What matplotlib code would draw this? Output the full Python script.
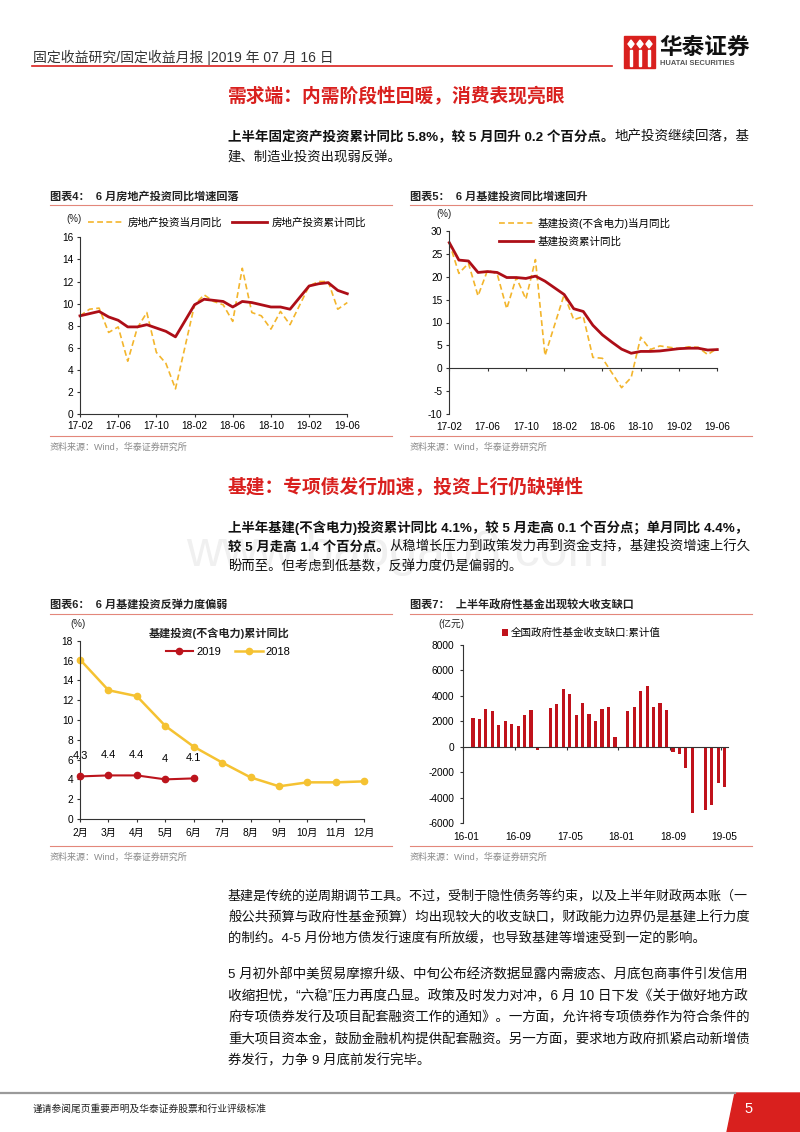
import numpy as np
import matplotlib.pyplot as plt
from matplotlib.lines import Line2D
from matplotlib.patches import Polygon, Rectangle

W, H = 800, 1132
plt.rcParams['font.family'] = ['Liberation Sans', 'Noto Sans CJK SC']
plt.rcParams['axes.unicode_minus'] = False

# ---- data -------------------------------------------------------------
months_a = ['17-02', '17-03', '17-04', '17-05', '17-06', '17-07', '17-08', '17-09', '17-10', '17-11', '17-12',
            '18-02', '18-03', '18-04', '18-05', '18-06', '18-07', '18-08', '18-09', '18-10', '18-11', '18-12',
            '19-02', '19-03', '19-04', '19-05', '19-06']
ticks_a = ['17-02', '17-06', '17-10', '18-02', '18-06', '18-10', '19-02', '19-06']

re_month = [8.9, 9.5, 9.6, 7.4, 7.9, 4.8, 7.8, 9.2, 5.6, 4.6, 2.3,
            9.9, 10.8, 10.2, 9.9, 8.4, 13.2, 9.2, 8.9, 7.7, 9.3, 8.1,
            11.6, 12.0, 12.0, 9.5, 10.1]
re_cum = [8.9, 9.1, 9.3, 8.8, 8.5, 7.9, 7.9, 8.1, 7.8, 7.5, 7.0,
          9.9, 10.4, 10.3, 10.2, 9.7, 10.2, 10.1, 9.9, 9.7, 9.7, 9.5,
          11.6, 11.8, 11.9, 11.2, 10.9]

infra_month = [27.4, 20.7, 22.9, 15.8, 21.4, 20.6, 13.0, 19.8, 15.1, 23.7, 2.8,
               16.1, 10.6, 11.3, 2.4, 2.2, -1.0, -4.2, -2.0, 6.8, 4.1, 4.9,
               4.3, 4.7, 4.6, 3.0, 4.4]
infra_cum = [27.4, 23.6, 23.4, 20.9, 21.1, 20.9, 19.8, 19.8, 19.6, 20.1, 19.0,
             16.1, 13.0, 12.4, 9.4, 7.3, 5.7, 4.2, 3.3, 3.7, 3.7, 3.8,
             4.3, 4.4, 4.4, 4.0, 4.1]

months_6 = ['2月', '3月', '4月', '5月', '6月', '7月', '8月', '9月', '10月', '11月', '12月']
infra_2018 = [16.1, 13.0, 12.4, 9.4, 7.3, 5.7, 4.2, 3.3, 3.7, 3.7, 3.8]
infra_2019 = [4.3, 4.4, 4.4, 4.0, 4.1]

months_g = ['16-02', '16-03', '16-04', '16-05', '16-06', '16-07', '16-08', '16-09', '16-10', '16-11', '16-12',
            '17-02', '17-03', '17-04', '17-05', '17-06', '17-07', '17-08', '17-09', '17-10', '17-11', '17-12',
            '18-02', '18-03', '18-04', '18-05', '18-06', '18-07', '18-08', '18-09', '18-10', '18-11', '18-12',
            '19-02', '19-03', '19-04', '19-05']
fund_gap = [2230, 2180, 2940, 2780, 1690, 2070, 1790, 1650, 2470, 2860, -210,
            3070, 3400, 4510, 4130, 2470, 3460, 2610, 2070, 2970, 3120, 760,
            2830, 3150, 4360, 4750, 3100, 3460, 2910, -370, -580, -1650, -5170,
            -4960, -4590, -2860, -3150]
ticks_g = ['16-01', '16-09', '17-05', '18-01', '18-09', '19-05']

GOLD = '#F3B52C'
DARKRED = '#AD0E17'
RED = '#C0121B'
TITLE_RED = '#D9201E'
LINE_RED = '#E3877B'


def slot(m, base):
    y, mm = m.split('-')
    by, bm = base.split('-')
    return (int(y) - int(by)) * 12 + int(mm) - int(bm)


fig = plt.figure(figsize=(W / 100, H / 100), dpi=100)
fig.patch.set_facecolor('white')
renderer = fig.canvas.get_renderer()


def fx(x):
    return x / W


def fy(y):
    return 1 - y / H


def ftext(x, y, s, **kw):
    kw.setdefault('va', 'center')
    return fig.text(fx(x), fy(y), s, **kw)


def hline(x0, x1, y, color, lw):
    fig.add_artist(Line2D([fx(x0), fx(x1)], [fy(y), fy(y)], color=color, lw=lw,
                          transform=fig.transFigure))


def rich(x, y, parts, size=9.6, right=None):
    # one line of body text, bold/normal runs side by side;
    # full lines are fitted to the right margin like the justified original
    def draw(sz):
        cx = x
        ts = []
        for s, w in parts:
            t = ftext(cx, y, s, fontsize=sz, fontweight=w, ha='left', color='#111111')
            ts.append(t)
            cx += t.get_window_extent(renderer).width
        return ts, cx
    ts, end = draw(size)
    if right is not None:
        for t in ts:
            t.remove()
        draw(size * (right - x) / (end - x))


def ax_px(l, t, r, b):
    return fig.add_axes([fx(l), fy(b), (r - l) / W, (b - t) / H])


def style(ax):
    for s in ['top', 'right']:
        ax.spines[s].set_visible(False)
    for s in ['left', 'bottom']:
        ax.spines[s].set_color('#333333')
        ax.spines[s].set_linewidth(0.8)
    ax.tick_params(labelsize=7.3, length=2.5, width=0.8, color='#333333', pad=2.5)
    ax.set_facecolor('none')


RIGHT = 751

# ---- page header ------------------------------------------------------
ftext(33, 57, '固定收益研究/固定收益月报 |2019 年 07 月 16 日', fontsize=10, color='#333333')
hline(32, 612, 66, TITLE_RED, 1.2)
fig.add_artist(Rectangle((fx(624), fy(68)), 31 / W, 32 / H, color=TITLE_RED, transform=fig.transFigure))
for cx in [631, 640, 649]:
    fig.add_artist(Polygon([(fx(cx - 3), fy(44)), (fx(cx), fy(40)), (fx(cx + 3), fy(44)), (fx(cx), fy(48))],
                           closed=True, color='white', transform=fig.transFigure))
    fig.add_artist(Polygon([(fx(cx - 1.2), fy(50)), (fx(cx + 1.2), fy(50)), (fx(cx + 1.2), fy(66)), (fx(cx - 1.2), fy(66))],
                           closed=True, color='white', transform=fig.transFigure))
ftext(659, 47, '华泰证券', fontsize=16.3, fontweight='bold', color='#111111')
ftext(660, 63.5, 'HUATAI SECURITIES', fontsize=5.4, fontweight='bold', color='#555555')

# ---- section 1 --------------------------------------------------------
ftext(228, 97, '需求端：内需阶段性回暖，消费表现亮眼', fontsize=13.5, fontweight='bold', color=TITLE_RED)
rich(228, 137, [('上半年固定资产投资累计同比 5.8%，较 5 月回升 0.2 个百分点。', 'bold'),
                ('地产投资继续回落，基', 'normal')], right=RIGHT)
rich(228, 157, [('建、制造业投资出现弱反弹。', 'normal')])

# chart frames
for x0, x1, title in [(50, 392, '图表4：  6 月房地产投资同比增速回落'),
                      (410, 752, '图表5：  6 月基建投资同比增速回升')]:
    ftext(x0, 196.5, title, fontsize=8, fontweight='bold', color='#222222')
    hline(x0, x1, 205, LINE_RED, 0.8)
    hline(x0, x1, 436, LINE_RED, 0.8)
    ftext(x0, 447.5, '资料来源：Wind，华泰证券研究所', fontsize=6.5, color='#8a8a8a')

# ---- chart 4 ----------------------------------------------------------
ax4 = ax_px(80, 237.3, 347.3, 414.3)
style(ax4)
xa = [slot(m, '17-02') for m in months_a]
l1, = ax4.plot(xa, re_month, color=GOLD, lw=1.2, ls=(0, (3.5, 2)), clip_on=False, label='房地产投资当月同比')
l2, = ax4.plot(xa, re_cum, color=DARKRED, lw=2.0, clip_on=False, label='房地产投资累计同比')
ax4.set_xlim(0, 28)
ax4.set_ylim(0, 16)
ax4.set_yticks(range(0, 17, 2))
ax4.set_xticks([slot(m, '17-02') for m in ticks_a])
ax4.set_xticklabels(ticks_a)
ax4.legend(handles=[l1, l2], ncol=2, frameon=False, fontsize=7.6, loc='center left',
           bbox_to_anchor=(fx(83), fy(223)), bbox_transform=fig.transFigure,
           borderpad=0, handlelength=3.3, handletextpad=0.4, columnspacing=1.0)
ftext(74, 219, '(%)', fontsize=7, ha='center', color='#222222')

# ---- chart 5 ----------------------------------------------------------
ax5 = ax_px(449.3, 230.7, 717.3, 414.3)
style(ax5)
m1, = ax5.plot(xa, infra_month, color=GOLD, lw=1.2, ls=(0, (3.5, 2)), clip_on=False, label='基建投资(不含电力)当月同比')
m2, = ax5.plot(xa, infra_cum, color=DARKRED, lw=2.0, clip_on=False, label='基建投资累计同比')
ax5.set_xlim(0, 28)
ax5.set_ylim(-10, 30)
ax5.set_yticks(range(-10, 31, 5))
ax5.spines['bottom'].set_position(('data', 0))
ax5.set_xticks([slot(m, '17-02') for m in ticks_a])
ax5.tick_params(axis='x', labelbottom=False)
for m in ticks_a:
    ax5.text(slot(m, '17-02'), -0.068, m, transform=ax5.get_xaxis_transform(),
             ha='center', va='center', fontsize=7.3)
ax5.legend(handles=[m1, m2], ncol=1, frameon=False, fontsize=7.6, loc='center left',
           bbox_to_anchor=(fx(494), fy(232.5)), bbox_transform=fig.transFigure,
           borderpad=0, handlelength=3.2, handletextpad=0.4, labelspacing=0.75)
ftext(444, 214, '(%)', fontsize=7, ha='center', color='#222222')

# ---- section 2 --------------------------------------------------------
ftext(186, 553, 'www.baogao8.com', fontsize=36, color='#F0F0F0', ha='left', zorder=0)
ftext(228, 488, '基建：专项债发行加速，投资上行仍缺弹性', fontsize=13.5, fontweight='bold', color=TITLE_RED)
rich(228, 527.5, [('上半年基建(不含电力)投资累计同比 4.1%，较 5 月走高 0.1 个百分点；单月同比 4.4%，', 'bold')],
     right=RIGHT)
rich(228, 547, [('较 5 月走高 1.4 个百分点。', 'bold'),
                ('从稳增长压力到政策发力再到资金支持，基建投资增速上行久', 'normal')], right=RIGHT)
rich(228, 566.5, [('盼而至。但考虑到低基数，反弹力度仍是偏弱的。', 'normal')])

for x0, x1, title in [(50, 392, '图表6：  6 月基建投资反弹力度偏弱'),
                      (410, 752, '图表7：  上半年政府性基金出现较大收支缺口')]:
    ftext(x0, 604.5, title, fontsize=8, fontweight='bold', color='#222222')
    hline(x0, x1, 614, LINE_RED, 0.8)
    hline(x0, x1, 846, LINE_RED, 0.8)
    ftext(x0, 857, '资料来源：Wind，华泰证券研究所', fontsize=6.5, color='#8a8a8a')

# ---- chart 6 ----------------------------------------------------------
ax6 = ax_px(80, 640.7, 364.3, 819)
style(ax6)
p18, = ax6.plot(range(len(infra_2018)), infra_2018, color='#F5C232', lw=1.8, marker='o', ms=4.5,
                clip_on=False, label='2018')
p19, = ax6.plot(range(len(infra_2019)), infra_2019, color='#BC141C', lw=1.5, marker='o', ms=4.5,
                clip_on=False, label='2019', zorder=3)
for i, v in enumerate(infra_2019):
    ax6.annotate('{:g}'.format(v), (i, v), xytext=(0, 11), textcoords='offset points',
                 ha='center', va='bottom', fontsize=8)
ax6.set_xlim(0, len(months_6) - 1)
ax6.set_ylim(0, 18)
ax6.set_yticks(range(0, 19, 2))
ax6.set_xticks(range(len(months_6)))
ax6.set_xticklabels(months_6)
ax6.tick_params(axis='x', pad=4)
ftext(219, 633, '基建投资(不含电力)累计同比', fontsize=8, fontweight='bold', ha='center', color='#222222')
ax6.legend(handles=[p19, p18], ncol=2, frameon=False, fontsize=8, loc='center left',
           bbox_to_anchor=(fx(160), fy(652)), bbox_transform=fig.transFigure,
           borderpad=0, handlelength=2.5, handletextpad=0.25, columnspacing=1.3)
ftext(78, 624, '(%)', fontsize=7, ha='center', color='#222222')

# ---- chart 7 ----------------------------------------------------------
ax7 = ax_px(463.3, 645, 727.8, 823.3)
style(ax7)
xg = [slot(m, '16-01') for m in months_g]
bars = ax7.bar(xg, fund_gap, width=0.5, color=RED, label='全国政府性基金收支缺口:累计值')
n_g = slot('19-05', '16-01') + 1
ax7.set_xlim(-0.5, n_g - 0.5)
ax7.set_ylim(-6000, 8000)
ax7.set_yticks(range(-6000, 8001, 2000))
ax7.spines['bottom'].set_position(('data', 0))
ax7.set_xticks([slot(m, '16-01') - 0.5 for m in ticks_g])
ax7.tick_params(axis='x', labelbottom=False)
ax7.tick_params(axis='y', pad=4)
for m in ticks_g:
    ax7.text(slot(m, '16-01'), -0.075, m, transform=ax7.get_xaxis_transform(),
             ha='center', va='center', fontsize=7.3)
ax7.legend(handles=[bars], frameon=False, fontsize=7.6, loc='center left',
           bbox_to_anchor=(fx(497), fy(633)), bbox_transform=fig.transFigure,
           borderpad=0, handlelength=0.55, handleheight=0.55, handletextpad=0.3)
ftext(451, 624, '(亿元)', fontsize=7, ha='center', color='#222222')

# ---- text below -------------------------------------------------------
para3 = ['基建是传统的逆周期调节工具。不过，受制于隐性债务等约束，以及上半年财政两本账（一',
         '般公共预算与政府性基金预算）均出现较大的收支缺口，财政能力边界仍是基建上行力度',
         '的制约。4-5 月份地方债发行速度有所放缓，也导致基建等增速受到一定的影响。']
para4 = ['5 月初外部中美贸易摩擦升级、中旬公布经济数据显露内需疲态、月底包商事件引发信用',
         '收缩担忧，“六稳”压力再度凸显。政策及时发力对冲，6 月 10 日下发《关于做好地方政',
         '府专项债券发行及项目配套融资工作的通知》。一方面，允许将专项债券作为符合条件的',
         '重大项目资本金，鼓励金融机构提供配套融资。另一方面，要求地方政府抓紧启动新增债',
         '券发行，力争 9 月底前发行完毕。']
for i, s in enumerate(para3):
    rich(228, 896 + i * 21.4, [(s, 'normal')], right=RIGHT if i < len(para3) - 1 else None)
for i, s in enumerate(para4):
    rich(228, 975 + i * 21.5, [(s, 'normal')], right=RIGHT if i < len(para4) - 1 else None)

# ---- footer -----------------------------------------------------------
hline(0, 735, 1093, '#9a9a9a', 1.6)
fig.add_artist(Polygon([(fx(727), fy(1132)), (fx(735), fy(1093)), (fx(800), fy(1093)), (fx(800), fy(1132))],
                       closed=True, color=TITLE_RED, transform=fig.transFigure))
ftext(33, 1109, '谨请参阅尾页重要声明及华泰证券股票和行业评级标准', fontsize=7, color='#222222')
ftext(749, 1109, '5', fontsize=10.5, color='white', ha='center')

fig.savefig('out.png', dpi=100)
